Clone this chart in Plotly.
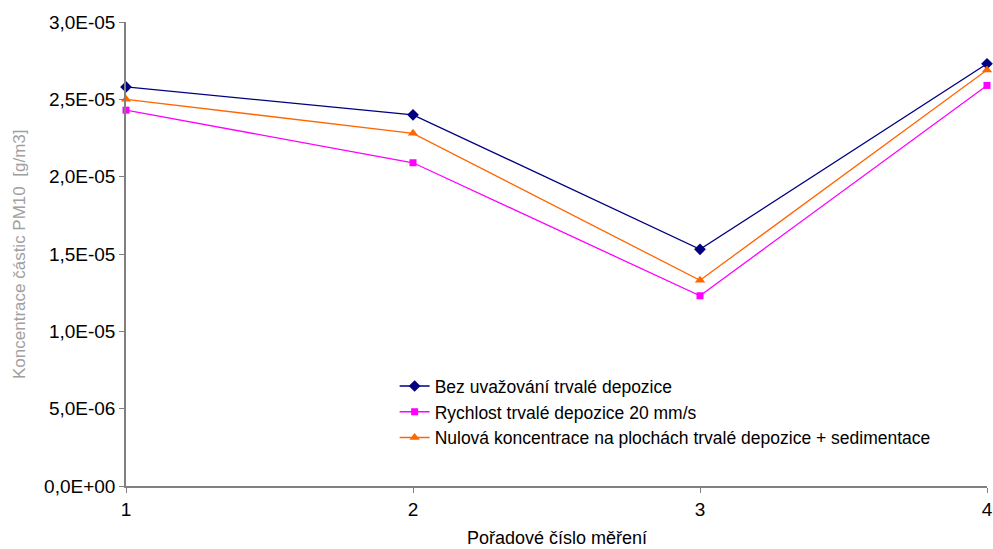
import plotly.graph_objects as go

# Measurement order numbers
measurements = [1, 2, 3, 4]

# PM10 particle concentration [g/m3] for each scenario
bez_depozice = [2.58e-05, 2.40e-05, 1.53e-05, 2.73e-05]
rychlost_20 = [2.43e-05, 2.09e-05, 1.23e-05, 2.59e-05]
nulova_sedim = [2.50e-05, 2.28e-05, 1.33e-05, 2.69e-05]

series_names = [
    "Bez uvažování trvalé depozice",
    "Rychlost trvalé depozice 20 mm/s",
    "Nulová koncentrace na plochách trvalé depozice + sedimentace",
]

y_tickvals = [0, 5e-06, 1e-05, 1.5e-05, 2e-05, 2.5e-05, 3e-05]
y_ticktext = ["0,0E+00", "5,0E-06", "1,0E-05", "1,5E-05", "2,0E-05", "2,5E-05", "3,0E-05"]

styles = [
    dict(color="#000080", symbol="diamond", size=9),
    dict(color="#FF00FF", symbol="square", size=7),
    dict(color="#FF6600", symbol="triangle-up", size=9),
]

fig = go.Figure()
for name, vals, st in zip(series_names, [bez_depozice, rychlost_20, nulova_sedim], styles):
    fig.add_trace(go.Scatter(
        x=measurements, y=vals, name=name, mode="lines+markers",
        line=dict(color=st["color"], width=1.3),
        marker=dict(color=st["color"], symbol=st["symbol"], size=st["size"]),
        cliponaxis=False,
    ))

font_family = "Liberation Sans, Arial, sans-serif"

fig.update_layout(
    width=993, height=549,
    margin=dict(l=126, r=6, t=22, b=63, autoexpand=False),
    paper_bgcolor="white", plot_bgcolor="white",
    font=dict(family=font_family, size=17, color="black"),
    showlegend=True,
    legend=dict(
        x=0.312, y=0.254, xanchor="left", yanchor="top",
        bgcolor="rgba(0,0,0,0)", borderwidth=0,
        font=dict(family=font_family, size=17.5, color="black"),
        tracegroupgap=0, itemwidth=30,
    ),
    xaxis=dict(
        range=[1, 4], tickvals=measurements, ticktext=[str(m) for m in measurements],
        showgrid=False, zeroline=False, showline=True, linecolor="#808080", linewidth=1.5,
        ticks="outside", ticklen=5, tickcolor="#808080", automargin=False,
        tickfont=dict(size=19),
    ),
    yaxis=dict(
        range=[0, 3e-05], tickvals=y_tickvals, ticktext=y_ticktext,
        showgrid=False, zeroline=False, showline=True, linecolor="#808080", linewidth=1.5,
        ticks="outside", ticklen=5, tickcolor="#808080", automargin=False,
        tickfont=dict(size=19),
    ),
    annotations=[
        dict(text="Pořadové číslo měření", xref="paper", yref="paper",
             x=0.5, y=-0.112, xanchor="center", yanchor="middle",
             showarrow=False, font=dict(size=18)),
        dict(text="Koncentrace částic PM10  [g/m3]", xref="paper", yref="paper",
             x=-0.1243, y=0.5, xanchor="center", yanchor="middle", textangle=-90,
             showarrow=False, font=dict(size=17, color="#a0a0a0")),
    ],
)

fig.write_html("out.html")
